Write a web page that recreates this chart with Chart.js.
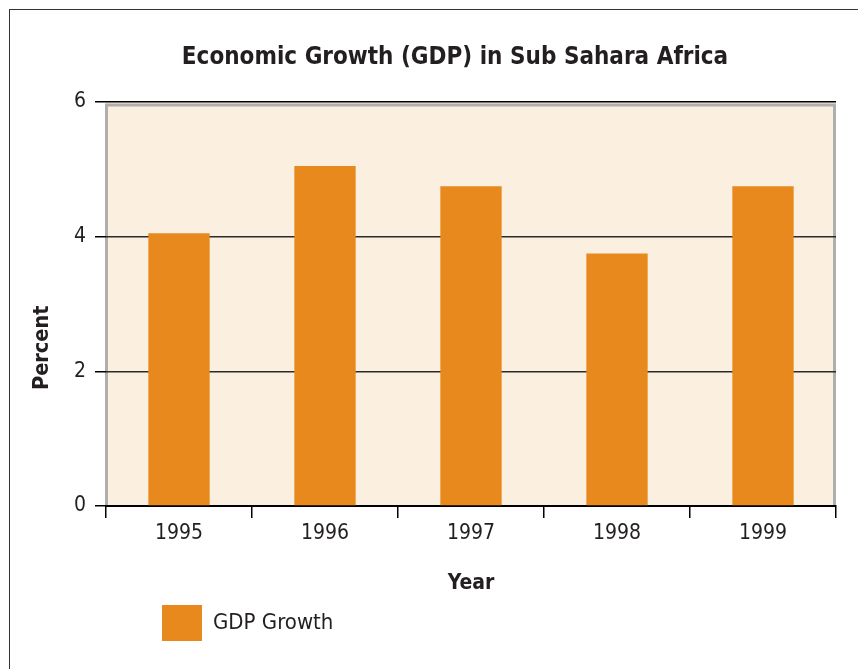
<!DOCTYPE html>
<html>
<head>
<meta charset="utf-8">
<title>Economic Growth (GDP) in Sub Sahara Africa</title>
<script src="https://cdn.jsdelivr.net/npm/chart.js@4/dist/chart.umd.min.js"></script>
<style>
  html, body { margin: 0; padding: 0; background: #fff; overflow: hidden; }
  #wrap { position: relative; width: 858px; height: 669px; }
  #frame { position: absolute; left: 9px; top: 9px; width: 900px; height: 700px; border: 1.5px solid #333; }
  #chart { position: absolute; left: 0; top: 0; }
</style>
</head>
<body>
<div id="wrap">
  <div id="frame"></div>
  <canvas id="chart" width="858" height="669"></canvas>
</div>
<script>
// ── Data ──
const years = ['1995', '1996', '1997', '1998', '1999'];
const gdpGrowth = [4.05, 5.05, 4.75, 3.75, 4.75];
const yMin = 0, yMax = 6, yStep = 2;

const ORANGE = '#E8891E';
const BEIGE = '#FBEFE0';
const FRAME_GRAY = '#AFAFAF';
const INK = '#231F20';
const FONT = "'Liberation Sans Narrow', 'Arial Narrow', 'DejaVu Sans Condensed', sans-serif";

Chart.defaults.font.family = FONT;
Chart.defaults.color = INK;

// beige plot panel with grey inner frame
const plotPanel = {
  id: 'plotPanel',
  beforeDraw(chart) {
    const { ctx, chartArea: a } = chart;
    ctx.save();
    ctx.fillStyle = BEIGE;
    ctx.fillRect(a.left, a.top, a.right - a.left, a.bottom - a.top);
    ctx.strokeStyle = FRAME_GRAY;
    ctx.lineWidth = 3;
    ctx.beginPath();
    ctx.moveTo(a.left + 0.5, a.bottom);
    ctx.lineTo(a.left + 0.5, a.top + 3);
    ctx.lineTo(a.right - 1.5, a.top + 3);
    ctx.lineTo(a.right - 1.5, a.bottom);
    ctx.stroke();
    ctx.restore();
  }
};

// nudge title and legend: title centred a bit right, legend under the plot
const blockShift = {
  id: 'blockShift',
  afterLayout(chart) {
    if (chart.titleBlock) chart.titleBlock.left += 74;
    if (chart.legend) chart.legend.left = 162 - chart.legend.options.labels.padding;
  }
};

new Chart(document.getElementById('chart').getContext('2d'), {
  type: 'bar',
  data: {
    labels: years,
    datasets: [{
      label: 'GDP Growth',
      data: gdpGrowth,
      backgroundColor: ORANGE,
      borderWidth: 0,
      categoryPercentage: 1,
      barPercentage: 0.42
    }]
  },
  options: {
    responsive: false,
    animation: false,
    layout: { padding: { left: 0, right: 22, top: 0, bottom: 18 } },
    scales: {
      x: {
        grid: { offset: true, drawOnChartArea: false, drawTicks: true, tickLength: 12, tickColor: '#000', lineWidth: 1.5 },
        border: { display: true, color: '#000', width: 2 },
        ticks: { font: { size: 21 }, color: INK, padding: 2.9 },
        title: { display: true, text: 'Year', font: { size: 21, weight: 'bold' }, color: INK, padding: { top: 0, bottom: 1.5 } },
        afterFit(scale) { scale.height = 91.6; }
      },
      y: {
        min: yMin,
        max: yMax,
        ticks: { stepSize: yStep, font: { size: 21 }, color: INK, padding: 9 },
        grid: {
          color: ctx => ctx.tick.value === yMax ? '#000' : '#2b2b2b',
          lineWidth: 1.5,
          tickLength: 11,
          tickColor: '#000'
        },
        border: { display: false },
        title: { display: true, text: 'Percent' + '             ', font: { size: 21.5, weight: 'bold' }, color: INK, padding: { top: 29.2, bottom: 0 } },
        afterFit(scale) { scale.width = 106; }
      }
    },
    plugins: {
      title: {
        display: true,
        text: 'Economic Growth (GDP) in Sub Sahara Africa',
        font: { size: 24, weight: 'bold' },
        color: INK,
        padding: { top: 43.1, bottom: 30.1 }
      },
      legend: {
        position: 'bottom',
        align: 'start',
        labels: {
          boxWidth: 40,
          boxHeight: 36,
          padding: 7.4,
          font: { size: 22 },
          color: INK
        }
      },
      tooltip: { enabled: false }
    }
  },
  plugins: [plotPanel, blockShift]
});
</script>
</body>
</html>
